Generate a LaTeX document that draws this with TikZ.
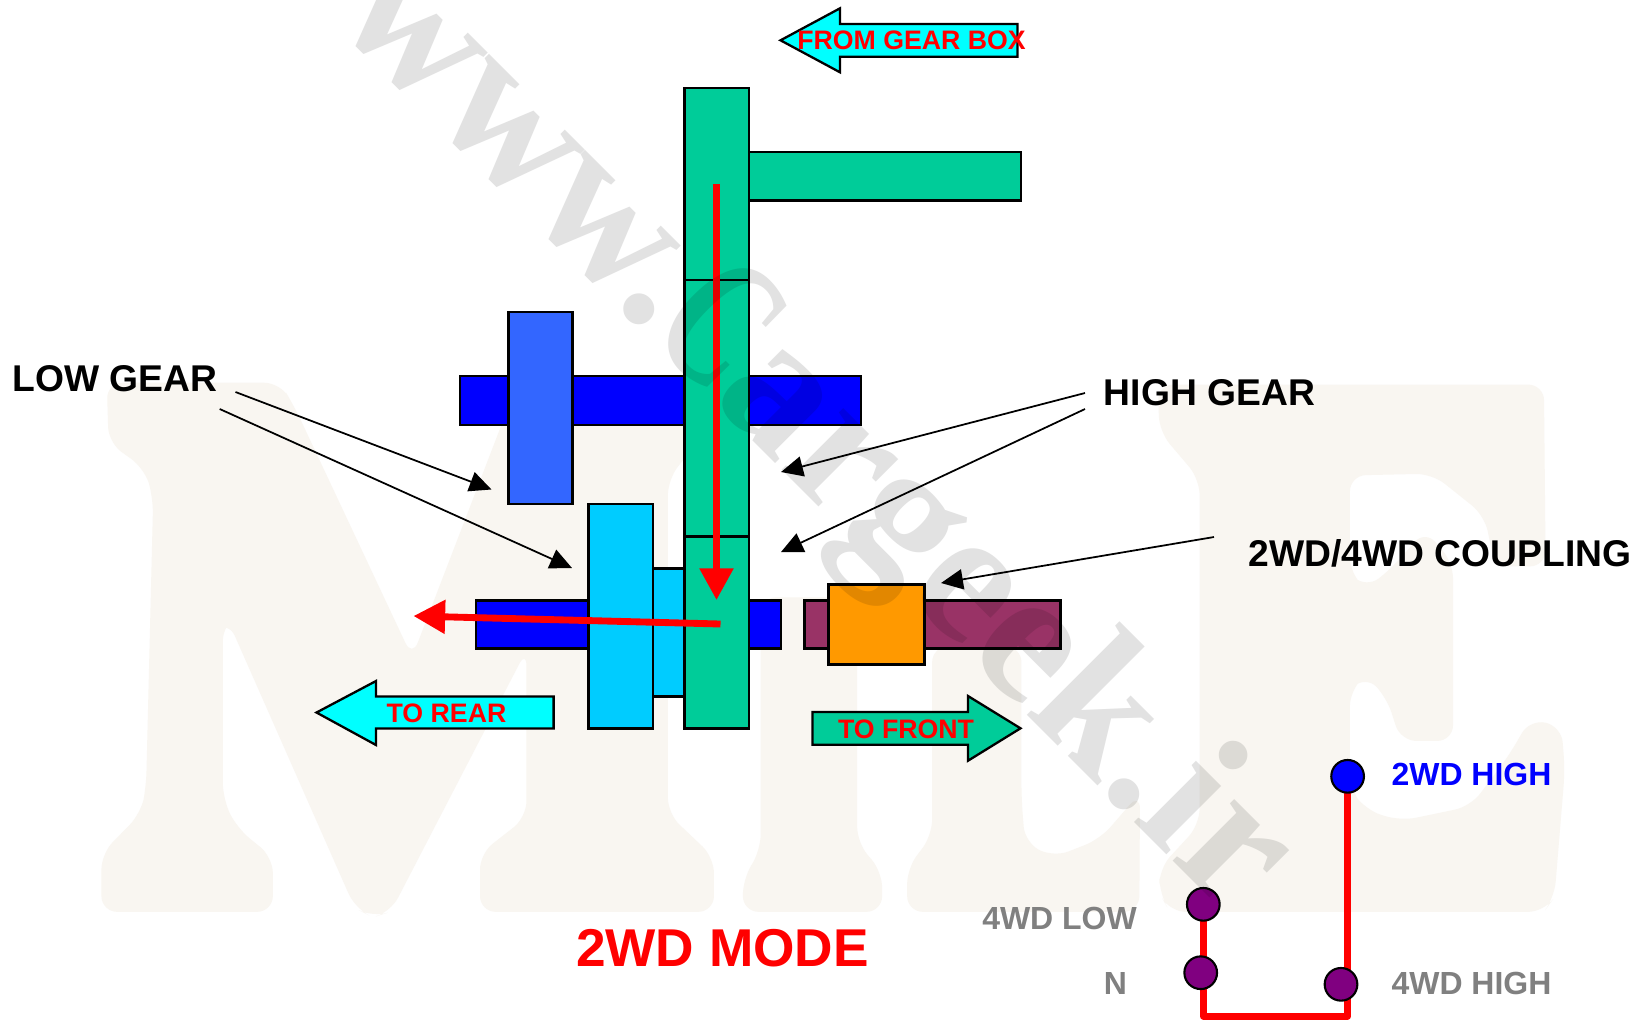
\documentclass[tikz,border=0pt]{standalone}
\usepackage{graphicx}
\usepackage{fontspec}
\setmainfont{Liberation Sans}
\newfontfamily\wmfont{Liberation Serif}
\usetikzlibrary{arrows.meta}
\definecolor{gearG}{HTML}{00CC99}
\definecolor{gearC}{HTML}{00CCFF}
\definecolor{gearB}{HTML}{3366FF}
\definecolor{shaftB}{HTML}{0000FF}
\definecolor{shaftP}{HTML}{993366}
\definecolor{collar}{HTML}{FF9900}
\definecolor{flowC}{HTML}{00FFFF}
\definecolor{knob}{HTML}{800080}
\definecolor{pale}{HTML}{F9F6F1}
\definecolor{wmgray}{HTML}{E2E2E2}
\tikzset{
  part/.style={draw=black,line width=1.3pt,line join=miter},
  pointer/.style={draw=black,line width=1pt,-{Triangle[length=12.5pt,width=11.5pt]}},
  flow/.style={draw=red,line width=3.9pt,-{Triangle[length=18pt,width=18.5pt]}},
  big/.style={font=\bfseries\fontsize{21.2}{21.2}\selectfont,inner sep=0pt,text=black},
  small/.style={font=\bfseries\fontsize{15.2}{15.2}\selectfont,inner sep=0pt,text=red},
  sel/.style={font=\bfseries\fontsize{18.2}{18.2}\selectfont,inner sep=0pt},
  knobdot/.style={circle,draw=black,line width=1.2pt,minimum size=18.6pt,inner sep=0pt},
  palefill/.style={fill=pale,draw=none,rounded corners=9pt}
}
\begin{document}
\begin{tikzpicture}[x=0.02cm,y=-0.02cm]
\useasboundingbox (0,-1) rectangle (1648,1018);
\fill[white] (0,-1) rectangle (1648,1018);
% pale background watermark
\begin{scope}[shift={(80,369)},xscale=0.35714,yscale=0.36364]
\fill[palefill] (75,35) -- (560,35) -- (600,100) -- (930,790) -- (1200,100) -- (1240,35) -- (1736,35) -- (1736,190) -- (1646,300) -- (1646,1220) -- (1775,1340) -- (1775,1490) -- (1120,1490) -- (1120,1330) -- (1250,1230) -- (1250,770) -- (870,1490) -- (820,1505) -- (770,1480) -- (415,690) -- (400,700) -- (400,1180) -- (440,1260) -- (540,1340) -- (540,1490) -- (60,1490) -- (60,1330) -- (170,1220) -- (185,1150) -- (205,350) -- (180,270) -- (80,200) -- cycle;
\end{scope}
\begin{scope}[shift={(600,369)},xscale=0.35714,yscale=0.36364]
\fill[palefill] (450,625) -- (720,625) -- (720,1300) -- (790,1380) -- (790,1490) -- (400,1490) -- (400,1400) -- (450,1320) -- cycle;
\fill[palefill] (930,760) -- (930,1280) -- (860,1370) -- (860,1490) -- (1510,1490) -- (1512,1163) -- (1400,1290) -- (1270,1340) -- (1190,1300) -- (1180,1180) -- (1180,760) -- cycle;
\end{scope}
\begin{scope}[shift={(1100,369)},xscale=0.34953,yscale=0.36364]
\fill[palefill] (165,40) -- (1270,40) -- (1275,540) -- (1130,540) -- (1100,400) -- (950,285) -- (715,290) -- (715,560) -- (760,600) -- (830,550) -- (930,440) -- (1010,530) -- (1010,1020) -- (860,1020) -- (820,900) -- (760,840) -- (715,880) -- (715,1150) -- (760,1210) -- (860,1240) -- (1060,1200) -- (1170,1060) -- (1230,960) -- (1320,980) -- (1330,1100) -- (1300,1450) -- (1270,1490) -- (200,1490) -- (170,1440) -- (170,1370) -- (285,1250) -- (285,300) -- (170,170) -- cycle;
\end{scope}
% shafts and gears
\draw[part,fill=shaftB] (460,375) rectangle (861,424);
\draw[part,fill=gearB] (508.5,311) rectangle (572.5,503);
\draw[part,fill=shaftB] (476,599.5) rectangle (781,647.5);
\draw[part,fill=shaftP] (804.5,599.5) rectangle (1060.5,647.5);
\draw[part,fill=collar] (828.5,583.5) rectangle (924.5,663.5);
\draw[part,fill=gearC] (588.5,503) rectangle (652.7,727.5);
\draw[part,fill=gearC] (652.7,567.5) rectangle (684.5,695.5);
\draw[part,fill=gearG] (749,151) rectangle (1021,199.5);
\draw[part,fill=gearG] (684.5,87) rectangle (749,279);
\draw[part,fill=gearG] (684.5,279) rectangle (749,535.5);
\draw[part,fill=gearG] (684.5,535.5) rectangle (749,727.5);
% block arrows
\draw[part,fill=flowC] (780.5,39.3) -- (840,7.3) -- (840,23) -- (1017.5,23) -- (1017.5,55.7) -- (840,55.7) -- (840,71.3) -- cycle;
\node[small] (fromgear) at (911.5,39.3) {FROM GEAR BOX};
\draw[part,fill=flowC] (316.5,711.5) -- (376,680) -- (376,695.5) -- (553.6,695.5) -- (553.6,727.5) -- (376,727.5) -- (376,744) -- cycle;
\node[small] (torear) at (446.5,712.5) {TO REAR};
\draw[part,fill=gearG] (1020.5,727.3) -- (968,695) -- (968,711) -- (812.5,711) -- (812.5,743.7) -- (968,743.7) -- (968,759.7) -- cycle;
\node[small] (tofront) at (906,728) {TO FRONT};
% labels
\node[big] (low) at (115,378) {LOW GEAR};
\node[big] (high) at (1209.5,392) {HIGH GEAR};
\node[big] (coupling) at (1440,552) {2WD/4WD COUPLING};
% pointer ends
\coordinate (lowA) at (235.5,391);
\coordinate (lowB) at (219.7,408);
\coordinate (lowAt) at (491.5,488.5);
\coordinate (lowBt) at (572,567);
\coordinate (highA) at (1085,392);
\coordinate (highB) at (1085,408);
\coordinate (highAt) at (781,471);
\coordinate (highBt) at (781,551);
\coordinate (cplA) at (1214,536);
\coordinate (cplAt) at (941,582);
\draw[pointer] (lowA) -- (lowAt);
\draw[pointer] (lowB) -- (lowBt);
\draw[pointer] (highA) -- (highAt);
\draw[pointer] (highB) -- (highBt);
\draw[pointer] (cplA) -- (cplAt);
% flow arrows
\coordinate (flowS) at (716.5,183);
\coordinate (flowE) at (716.5,599);
\coordinate (flowLS) at (720.5,623);
\coordinate (flowLE) at (413.5,615);
\draw[flow] (flowS) -- (flowE);
\draw[flow] (flowLS) -- (flowLE);
% selector
\coordinate (plow) at (1203.3,903.3);
\coordinate (pn) at (1200.7,971.7);
\coordinate (phigh) at (1341,983.3);
\coordinate (p2wd) at (1347.6,775.3);
\coordinate (cl) at (1203.3,1015);
\coordinate (cr) at (1347.6,1015);
\draw[draw=red,line width=4pt,line join=round] (plow) -- (cl) -- (cr) -- (p2wd);
\node[knobdot,fill=shaftB] (d2wd) at (p2wd) {};
\node[knobdot,fill=knob] (dlow) at (plow) {};
\node[knobdot,fill=knob] (dn) at (pn) {};
\node[knobdot,fill=knob] (dhigh) at (phigh) {};
\node[sel,text=shaftB] (t2wd) at (1471.5,773.6) {2WD HIGH};
\node[sel,text=gray] (t4h) at (1471.5,982) {4WD HIGH};
\node[sel,text=gray] (t4l) at (1059.5,917) {4WD LOW};
\node[sel,text=gray] (tn) at (1115.5,982) {N};
\node[font=\bfseries\fontsize{30.3}{30.3}\selectfont,inner sep=0pt,text=red] (mode) at (722.5,947) {2WD MODE};
% diagonal watermark
\begin{scope}[blend mode=multiply]
\node[font=\wmfont\bfseries\fontsize{108}{108}\selectfont,text=wmgray,inner sep=0pt,rotate=-45,anchor=base east] (wm) at (1229,916) {www.\scalebox{0.66}[1]{C}argeek.ir};
\end{scope}
\end{tikzpicture}
\end{document}
